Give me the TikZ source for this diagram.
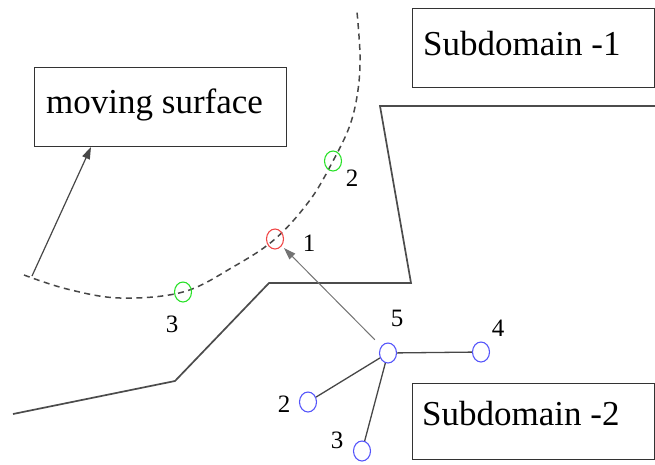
\documentclass[tikz,border=0pt]{standalone}
\usepackage{fontspec}
\setmainfont{Liberation Serif}
\usetikzlibrary{arrows.meta,shapes.geometric,calc}
\definecolor{ptgreen}{RGB}{40,225,40}
\definecolor{ptred}{RGB}{240,70,70}
\definecolor{ptblue}{RGB}{85,85,250}
\begin{document}
\begin{tikzpicture}[x=1pt,y=-1pt,
  box/.style={draw=black!80, line width=1.2pt, inner sep=0pt, anchor=north west},
  bigtext/.style={font=\fontsize{35}{40}\selectfont, inner sep=0pt, anchor=base west},
  num/.style={font=\fontsize{25}{28}\selectfont, inner sep=0pt},
  ptmark/.style={ellipse, draw, line width=1.1pt, minimum width=17pt, minimum height=20pt, inner sep=0pt},
  grn/.style={ptmark, draw=ptgreen},
  rd/.style={ptmark, draw=ptred},
  blu/.style={ptmark, draw=ptblue},
  wall/.style={draw=black!70, line width=1.7pt, line join=miter},
  surf/.style={draw=black!72, line width=1.5pt, dash pattern=on 6pt off 4.5pt},
  link/.style={draw=black!72, line width=1.3pt},
  tip/.style={-{Triangle[length=12pt,width=8pt]}},
]
\useasboundingbox (0,0) rectangle (655,464);

% boxes and texts
\node[box, minimum width=252pt, minimum height=79pt] (ms) at (34,67) {};
\node[bigtext] (mst) at (46,113) {moving surface};
\node[box, minimum width=242pt, minimum height=79pt] (sd1) at (412,8) {};
\node[bigtext] (sd1t) at (423,55) {Subdomain -1};
\node[box, minimum width=242pt, minimum height=76pt] (sd2) at (412,383) {};
\node[bigtext] (sd2t) at (422,425) {Subdomain -2};

% subdomain boundary
\draw[wall] (656,106) -- (380,106) -- (411,283) -- (269,283) -- (175,381) -- (13,414);

% moving surface (dashed)
\draw[surf] plot[smooth, tension=0.6] coordinates {(24,275) (67,289) (120,298) (183,292) (233,267) (275,239) (310,200) (333,161) (350,125) (358,90) (360,55) (357,12)};

% points on the surface
\node[grn] (g2) at (333,161) {};
\node[rd]  (r1) at (275,239) {};
\node[grn] (g3) at (183,292) {};
\node[num] (lg2) at (352,178) {2};
\node[num] (lr1) at (309,243) {1};
\node[num] (lg3) at (172,324) {3};

% arrow to moving surface label
\coordinate (msA) at (32,276);
\coordinate (msB) at (91,147);
\draw[link, line width=1.2pt, tip] (msA) -- (msB);

% subdomain-2 stencil
\node[blu] (b5) at (388,353) {};
\node[blu] (b4) at (481,352) {};
\node[blu] (b2) at (308,402) {};
\node[blu] (b3) at (362,451) {};
\node[num] (lb5) at (397,318) {5};
\node[num] (lb4) at (498,328) {4};
\node[num] (lb2) at (284,404) {2};
\node[num] (lb3) at (337,440) {3};

\draw[link] (b5) -- (b4);
\draw[link] (b5) -- (b2);
\draw[link] (b5) -- (b3);
\draw[draw=black!55, line width=1pt, tip, shorten <=9pt, shorten >=3pt] (b5) -- (r1);
\end{tikzpicture}
\end{document}
